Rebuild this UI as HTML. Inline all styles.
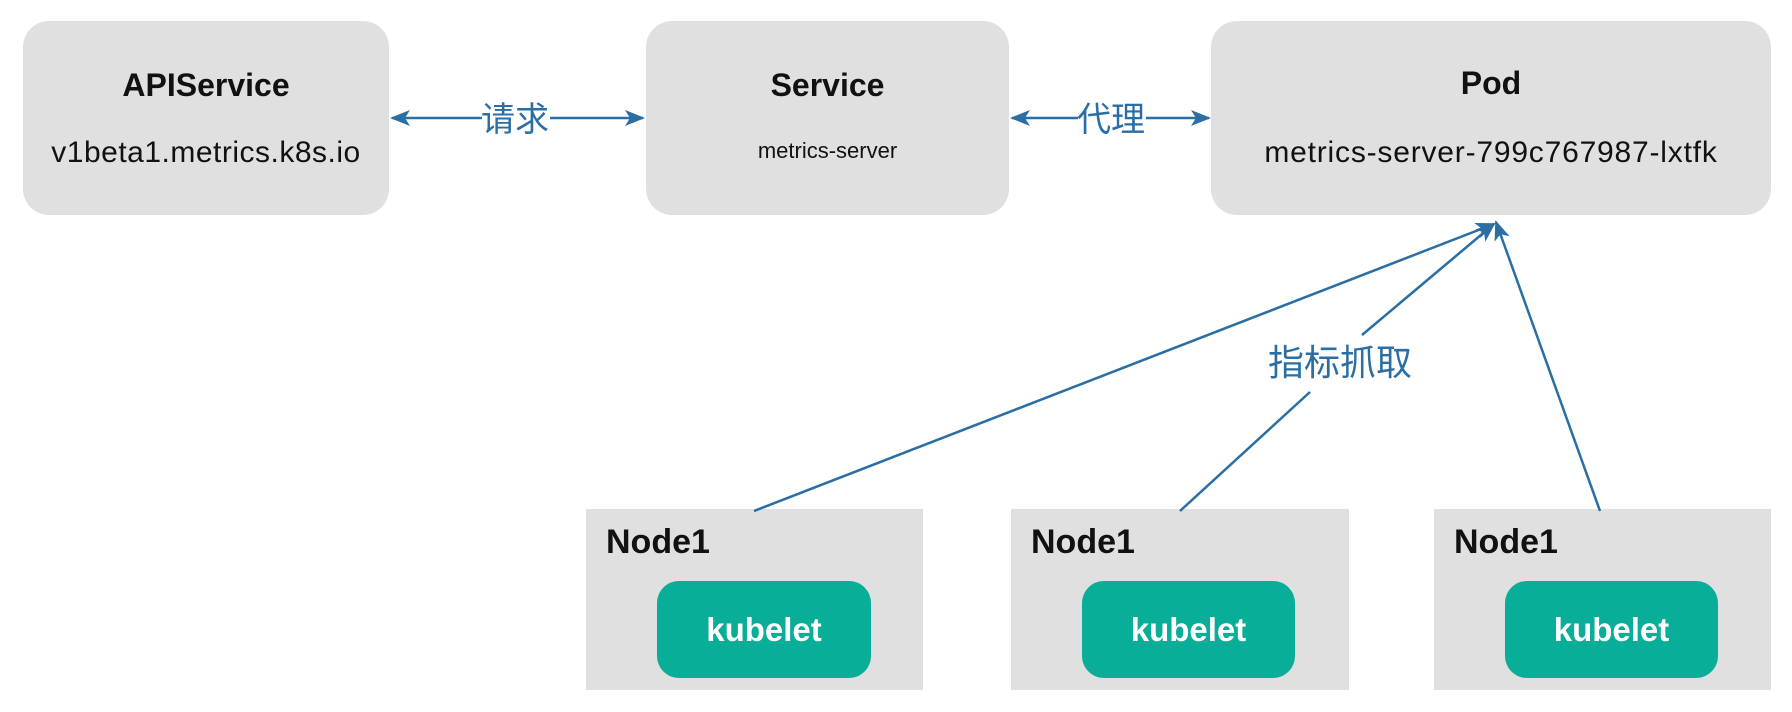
<!DOCTYPE html>
<html><head><meta charset="utf-8"><style>
body{margin:0;width:1792px;height:712px;background:#fff;position:relative;overflow:hidden;font-family:"Liberation Sans","Noto Sans CJK SC",sans-serif}
.b{position:absolute;background:#e0e0e0;border-radius:26px}
.n{position:absolute;background:#e0e0e0}
.k{position:absolute;background:#08ae97;border-radius:22px;color:#fff;font-size:33px;font-weight:600;display:flex;align-items:center;justify-content:center}
.t{position:absolute;width:100%;text-align:center;color:#111}
.l{position:absolute;font-size:34px;color:#111;font-weight:600}
</style></head><body>
<div class="b" style="left:23px;top:21px;width:366px;height:194px">
<div class="t" style="top:46px;font-size:32px;font-weight:bold">APIService</div>
<div class="t" style="top:115px;font-size:30px;letter-spacing:0.5px">v1beta1.metrics.k8s.io</div></div>
<div class="b" style="left:646px;top:21px;width:363px;height:194px">
<div class="t" style="top:46px;font-size:32px;font-weight:bold">Service</div>
<div class="t" style="top:117px;font-size:22px">metrics-server</div></div>
<div class="b" style="left:1211px;top:21px;width:560px;height:194px">
<div class="t" style="top:44px;font-size:32px;font-weight:bold">Pod</div>
<div class="t" style="top:115px;font-size:30px;letter-spacing:0.8px">metrics-server-799c767987-lxtfk</div></div>
<div class="n" style="left:586px;top:509px;width:337px;height:181px"><div class="l" style="left:20px;top:14px">Node1</div></div>
<div class="n" style="left:1011px;top:509px;width:338px;height:181px"><div class="l" style="left:20px;top:14px">Node1</div></div>
<div class="n" style="left:1434px;top:509px;width:337px;height:181px"><div class="l" style="left:20px;top:14px">Node1</div></div>
<div class="k" style="left:657px;top:581px;width:214px;height:97px">kubelet</div>
<div class="k" style="left:1082px;top:581px;width:213px;height:97px">kubelet</div>
<div class="k" style="left:1505px;top:581px;width:213px;height:97px">kubelet</div>
<svg width="1792" height="712" style="position:absolute;left:0;top:0">
<defs>
<marker id="b" markerWidth="20" markerHeight="20" refX="18" refY="10" orient="auto" markerUnits="userSpaceOnUse" viewBox="0 0 20 20"><path d="M0,2 L20,10 L0,18 L5,10z" fill="#2a6ea4"/></marker></defs>
<g stroke="#2a6ea4" stroke-width="2.5" fill="none">
<line x1="482" y1="118" x2="392" y2="118" marker-end="url(#b)"/>
<line x1="550" y1="118" x2="643" y2="118" marker-end="url(#b)"/>
<line x1="1078" y1="118" x2="1012" y2="118" marker-end="url(#b)"/>
<line x1="1146" y1="118" x2="1209" y2="118" marker-end="url(#b)"/>
<line x1="754" y1="511" x2="1494" y2="224" marker-end="url(#b)"/>
<line x1="1180" y1="511" x2="1310" y2="392"/>
<line x1="1362" y1="335" x2="1494" y2="224" marker-end="url(#b)"/>
<line x1="1600" y1="511" x2="1496" y2="222" marker-end="url(#b)"/>
</g></svg>
<div style="position:absolute;left:481px;top:100px;font-size:34px;line-height:40px;color:#2a6ea4">请求</div>
<div style="position:absolute;left:1077px;top:100px;font-size:34px;line-height:40px;color:#2a6ea4">代理</div>
<div style="position:absolute;left:1268px;top:341px;font-size:36px;line-height:44px;color:#2a6ea4">指标抓取</div>
</body></html>
